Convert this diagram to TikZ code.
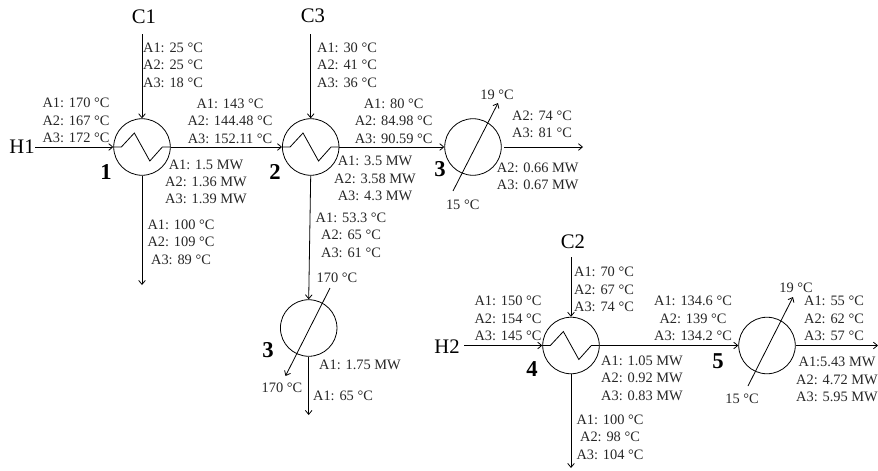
\documentclass[tikz,border=0pt]{standalone}
\usepackage{fontspec}
\setmainfont{Liberation Serif}
\usetikzlibrary{arrows.meta}

\tikzset{
  hxcircle/.style={circle,draw,line width=0.6pt,minimum size=42.4pt,inner sep=0pt},
  vallabel/.style={align=center,inner sep=0pt,text=black!85,font=\fontsize{10.8}{13}\selectfont},
  bignum/.style={inner sep=0pt,font=\fontsize{17}{18}\selectfont\bfseries},
  streamname/.style={inner sep=0pt,font=\fontsize{15.5}{18}\selectfont},
  stream/.style={line width=0.6pt}
}

\begin{document}
\begin{tikzpicture}[x=0.75pt,y=-0.75pt,>={Straight Barb[length=3pt,width=5pt]}]
\useasboundingbox (0,0) rectangle (878,471);

% --- Scambiatori
\node[hxcircle] (hxa) at (142,147) {};
\node[hxcircle] (hxb) at (310.7,147) {};
\node[hxcircle] (hxc) at (473,147) {};
\node[hxcircle] (hxd) at (308.7,328) {};
\node[hxcircle] (hxe) at (571,345.5) {};
\node[hxcircle] (hxf) at (767,345.5) {};

% --- Zigzag
\foreach \hx in {hxa,hxb,hxe}
  \draw[stream] (\hx.west) -- ++(8,0) -- ++(13,-14) -- ++(15.5,28) -- ++(12.5,-14) -- (\hx.east);

% --- Nomi delle correnti
\node[streamname] (hone) at (22,147) {H1};
\node[streamname] (htwo) at (447,347) {H2};
\node[streamname] (cone) at (144,17) {C1};
\node[streamname] (cthree) at (313,16) {C3};
\node[streamname] (ctwo) at (573,242) {C2};

% --- Estremi liberi
\coordinate (conetop) at (142,34);
\coordinate (cthreetop) at (310.7,34);
\coordinate (ctwotop) at (571,257);
\coordinate (htwoleft) at (464,345.5);
\coordinate (honeright) at (35,147);
\coordinate (hxaend) at (142,285);
\coordinate (hxcstart) at (504,147);
\coordinate (hxcend) at (583,147);
\coordinate (hxdend) at (308.7,415);
\coordinate (hxeend) at (571,468);
\coordinate (hxfend) at (878,345.5);

% --- Correnti
\draw[stream,->] (honeright) -- (hxa.west);
\draw[stream,->] (conetop) -- (hxa.north);
\draw[stream,->] (hxa.east) -- (hxb.west);
\draw[stream,->] (hxa.south) -- (hxaend);
\draw[stream,->] (cthreetop) -- (hxb.north);
\draw[stream,->] (hxb.east) -- (hxc.west);
\draw[stream,->] (hxb.south) -- (hxd.north);
\draw[stream,->] (hxcstart) -- (hxcend);
\draw[stream,->] (hxd.south) -- (hxdend);
\draw[stream,->] (htwoleft) -- (hxe.west);
\draw[stream,->] (ctwotop) -- (hxe.north);
\draw[stream,->] (hxe.east) -- (hxf.west);
\draw[stream,->] (hxe.south) -- (hxeend);
\draw[stream,->] (hxf.east) -- (hxfend);

% --- Utility (frecce diagonali)
\coordinate (utilcin) at (453,191);
\coordinate (utilcout) at (498,103);
\coordinate (utildin) at (330,288);
\coordinate (utildout) at (285.5,376);
\coordinate (utilfin) at (748,386);
\coordinate (utilfout) at (793,297);
\draw[stream,->] (utilcin) -- (utilcout);
\draw[stream,->] (utildin) -- (utildout);
\draw[stream,->] (utilfin) -- (utilfout);

% --- Numeri
\node[bignum] (numa) at (106,172) {1};
\node[bignum] (numb) at (275,172) {2};
\node[bignum] (numc) at (440,169) {3};
\node[bignum] (numd) at (268,350) {3};
\node[bignum] (nume) at (532,369) {4};
\node[bignum] (numf) at (718,361) {5};

% --- Valori: prima parte
\node[vallabel] (tcone) at (173,65) {A1: 25 °C\\A2: 25 °C\\A3: 18 °C};
\node[vallabel] (thone) at (76,120.5) {A1: 170 °C\\A2: 167 °C\\A3: 172 °C};
\node[vallabel] (thaout) at (230,121) {A1: 143 °C\\A2: 144.48 °C\\A3: 152.11 °C};
\node[vallabel] (qa) at (206,182) {A1: 1.5 MW\\A2: 1.36 MW\\A3: 1.39 MW};
\node[vallabel] (tcaout) at (181,242) {A1: 100 °C\\A2: 109 °C\\A3: 89 °C};
\node[vallabel] (tcthree) at (347,65) {A1: 30 °C\\A2: 41 °C\\A3: 36 °C};
\node[vallabel] (thbout) at (393.7,121) {A1: 80 °C\\A2: 84.98 °C\\A3: 90.59 °C};
\node[vallabel] (qb) at (375,178.5) {A1: 3.5 MW\\A2: 3.58 MW\\A3: 4.3 MW};
\node[vallabel] (tcbout) at (351,235) {A1: 53.3 °C\\A2: 65 °C\\A3: 61 °C};
\node[vallabel] (tutilcout) at (497,95) {19 °C};
\node[vallabel] (tutilcin) at (462.7,205) {15 °C};
\node[vallabel] (thcout) at (542,124) {A2: 74 °C\\A3: 81 °C};
\node[vallabel] (qc) at (537.7,176.5) {A2: 0.66 MW\\A3: 0.67 MW};
\node[vallabel] (tutildin) at (337,278) {170 °C};
\node[vallabel] (tutildout) at (282,388) {170 °C};
\node[vallabel] (qd) at (360,365) {A1: 1.75 MW};
\node[vallabel] (tcdout) at (343,396) {A1: 65 °C};

% --- Valori: seconda parte
\node[vallabel] (thtwo) at (508,318.5) {A1: 150 °C\\A2: 154 °C\\A3: 145 °C};
\node[vallabel] (tctwo) at (604,289.5) {A1: 70 °C\\A2: 67 °C\\A3: 74 °C};
\node[vallabel] (theout) at (693,318.5) {A1: 134.6 °C\\A2: 139 °C\\A3: 134.2 °C};
\node[vallabel] (qe) at (642,378) {A1: 1.05 MW\\A2: 0.92 MW\\A3: 0.83 MW};
\node[vallabel] (tceout) at (610,437) {A1: 100 °C\\A2: 98 °C\\A3: 104 °C};
\node[vallabel] (tutilfout) at (796,288) {19 °C};
\node[vallabel] (tutilfin) at (742,399) {15 °C};
\node[vallabel] (thfout) at (834,318.5) {A1: 55 °C\\A2: 62 °C\\A3: 57 °C};
\node[vallabel] (qf) at (837,379.5) {A1:5.43 MW\\A2: 4.72 MW\\A3: 5.95 MW};

\end{tikzpicture}
\end{document}
